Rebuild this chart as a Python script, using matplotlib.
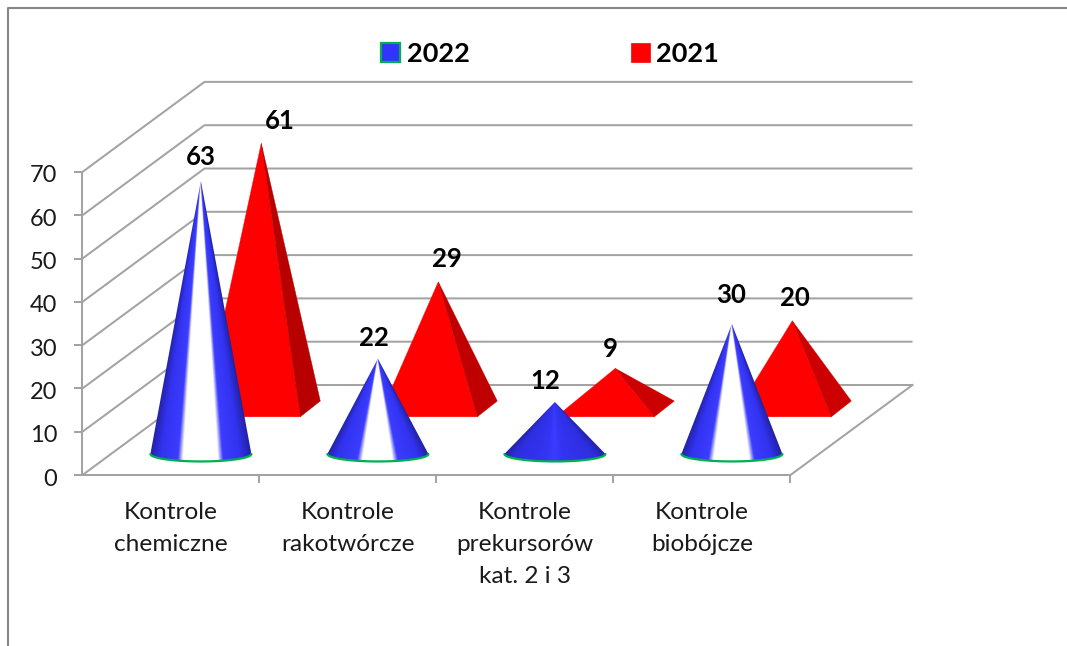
import numpy as np
import matplotlib
matplotlib.use("Agg")
import matplotlib.pyplot as plt
from matplotlib.patches import Patch, Polygon
from matplotlib.colors import to_rgb

categories = ["Kontrole\nchemiczne", "Kontrole\nrakotwórcze", "Kontrole\nprekursorów\nkat. 2 i 3", "Kontrole\nbiobójcze"]
values_2022 = [63, 22, 12, 30]
values_2021 = [61, 29, 9, 20]
y_ticks = [0, 10, 20, 30, 40, 50, 60, 70]

plt.rcParams['font.family'] = ['Lato', 'DejaVu Sans']

W, H = 1067, 646
CAT_PX, VAL_PX = 177.0, 4.33
X0_PX, Y0_PX = 82.5, 475.0
DEPTH_DX, DEPTH_DY = 122 / CAT_PX, 90 / VAL_PX

fig = plt.figure(figsize=(W / 100, H / 100), dpi=100, facecolor='white')
ax = fig.add_axes([0, 0, 1, 1])
xlim = (-X0_PX / CAT_PX, (W - X0_PX) / CAT_PX)
ylim = (-(H - Y0_PX) / VAL_PX, Y0_PX / VAL_PX)
ax.set_axis_off()


def proj(cat, val, depth=0.0):
    return cat + depth * DEPTH_DX, val + depth * DEPTH_DY


GRID = '#a3a3a3'
LW = 1.45
n = len(categories)

# walls and floor
for v in y_ticks:
    xs, ys = zip(proj(0, v), proj(0, v, 1), proj(n, v, 1))
    ax.plot(xs, ys, color=GRID, lw=LW, solid_capstyle='butt', zorder=1)
    ax.plot([-8 / CAT_PX, 0], [v, v], color=GRID, lw=LW, solid_capstyle='butt', zorder=1)
    ax.text(-25 / CAT_PX, v - 2 / VAL_PX, str(v), ha='right', va='center_baseline', fontsize=17,
            color='#1a1a1a', zorder=6)
ax.plot([0, 0], [0, y_ticks[-1]], color=GRID, lw=LW, zorder=1)
xs, ys = zip(proj(0, 0), proj(n, 0), proj(n, 0, 1))
ax.plot(xs, ys, color=GRID, lw=LW, zorder=1)
for i in range(1, n + 1):
    ax.plot([i, i], [0, -8 / VAL_PX], color=GRID, lw=LW, solid_capstyle='butt', zorder=1)
for i, c in enumerate(categories):
    ax.text(i + 0.5, -27 / VAL_PX, c, ha='center', va='top', fontsize=17.6, color='#1a1a1a',
            linespacing=1.65, zorder=6)

# pyramids (2021)
PW, PD = 49 / CAT_PX, 0.082
LIFT_P = 1 / VAL_PX
FRONT_EXTRA = 2 / VAL_PX
SIDE = ['#b80000', '#c00000', '#cc0000', '#cc0000']
for i, v in enumerate(values_2021):
    cx, cy = proj(i + 0.5, 0, 0.74)
    cy += LIFT_P
    apex = (cx, cy + v)
    fl = (cx - PW - PD * DEPTH_DX, cy - PD * DEPTH_DY - FRONT_EXTRA)
    fr = (cx + PW - PD * DEPTH_DX, cy - PD * DEPTH_DY - FRONT_EXTRA)
    br = (cx + PW + PD * DEPTH_DX, cy + PD * DEPTH_DY - LIFT_P)
    ax.add_patch(Polygon([fl, fr, apex], closed=True, fc='#ff0000', ec='#ff0000', lw=0.3, zorder=3))
    ax.add_patch(Polygon([fr, br, apex], closed=True, fc=SIDE[i], ec=SIDE[i], lw=0.3, zorder=3))

# cones (2022)
CW = 50.5 / CAT_PX
CE = 7.5 / VAL_PX
DROP_C = 1 / VAL_PX
BANDS = [0.41, 0.35, 0.0, 0.41]


def cone_rgb(u, band):
    a = np.abs(u)
    if band > 0:
        pos = [0, band - 0.07, band + 0.03, 0.78, 1.0]
        cols = ['#ffffff', '#ffffff', '#3c3cff', '#3232f0', '#2222a4']
    else:
        pos = [0, 0.15, 0.75, 1.0]
        cols = ['#3c3cff', '#3434f4', '#2e2ee0', '#2222a4']
    rgb = np.array([to_rgb(c) for c in cols])
    return np.dstack([np.interp(a, pos, rgb[:, k]) for k in range(3)])


for i, v in enumerate(values_2022):
    cx, cy = proj(i + 0.5, 0, 0.245)
    cy -= DROP_C
    top = cy + v
    gx = np.linspace(cx - CW, cx + CW, 400)
    gy = np.linspace(top, cy - CE, 500)
    X, Y = np.meshgrid(gx, gy)
    frac = np.clip((top - Y) / v, 0.002, None)
    U = np.clip((X - cx) / (CW * frac), -1, 1)
    img = cone_rgb(U, BANDS[i])
    th = np.linspace(np.pi, 2 * np.pi, 60)
    arc = np.column_stack([cx + CW * np.cos(th), cy + CE * np.sin(th)])
    outline = np.vstack([[[cx, top]], arc])
    im = ax.imshow(img, extent=(cx - CW, cx + CW, cy - CE, top), aspect='auto',
                   interpolation='bilinear', zorder=4)
    im.set_clip_path(Polygon(outline, closed=True, transform=ax.transData))
    ax.plot(arc[:, 0], arc[:, 1], color='#00b050', lw=1.6, solid_capstyle='round', zorder=5)

# value labels
OFF_2022 = [(0, 25), (-4, 22), (-10, 22), (-1, 30)]
OFF_2021 = [(19, 25), (9, 26), (-5, 22), (3, 26)]
for i, v in enumerate(values_2022):
    ax.annotate(str(v), proj(i + 0.5, v, 0.245), xytext=OFF_2022[i], textcoords='offset pixels',
                ha='center', va='center_baseline', fontsize=18.5, fontweight='bold', color='black', zorder=7)
for i, v in enumerate(values_2021):
    ax.annotate(str(v), proj(i + 0.5, v, 0.74), xytext=OFF_2021[i], textcoords='offset pixels',
                ha='center', va='center_baseline', fontsize=18.5, fontweight='bold', color='black', zorder=7)

# legend
handles = [Patch(fc='#3333ff', ec='#00b050', lw=1.6, label='2022'),
           Patch(fc='#ff0000', ec='#ff0000', lw=0.5, label='2021')]
leg = ax.legend(handles=handles, ncol=2, frameon=False, loc='center',
                bbox_to_anchor=(550 / W, 1 - 54 / H), bbox_transform=fig.transFigure,
                prop={'size': 19.5, 'weight': 'bold'}, handlelength=0.7, handleheight=0.7,
                handletextpad=0.25, columnspacing=5.95, borderpad=0, borderaxespad=0)

# outer frame
FRAME = '#868686'
ax.plot([(W + 5 - X0_PX) / CAT_PX, (8 - X0_PX) / CAT_PX, (8 - X0_PX) / CAT_PX],
        [(Y0_PX - 8) / VAL_PX, (Y0_PX - 8) / VAL_PX, (Y0_PX - H - 5) / VAL_PX],
        color=FRAME, lw=1.5, zorder=1)

ax.set_xlim(xlim)
ax.set_ylim(ylim)
fig.savefig('out.png', dpi=100)
